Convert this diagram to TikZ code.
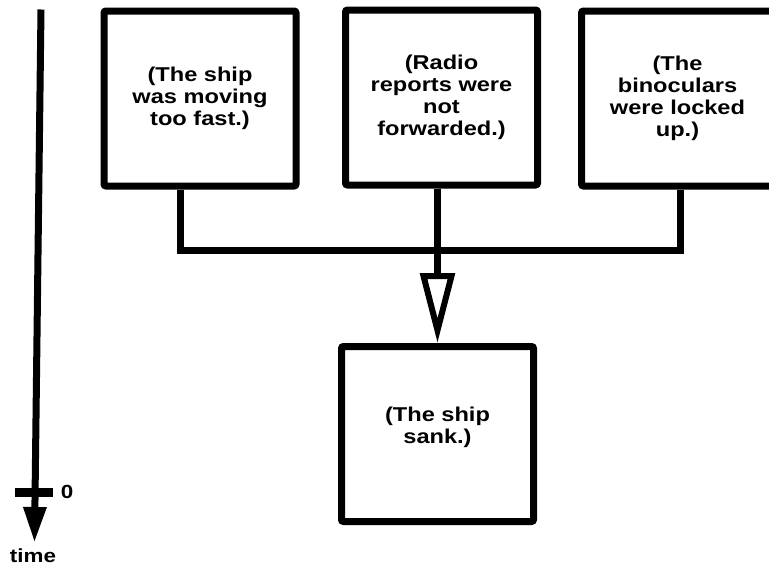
\documentclass[tikz,border=0pt]{standalone}
\usepackage{fontspec}
\newfontfamily\shipfam[FakeStretch = 1.18]{Liberation Sans}
\usetikzlibrary{arrows.meta}
\begin{document}
\begin{tikzpicture}[x = 1pt, y = -1pt,
        cause/.style = {draw, line width = 7pt, rounded corners = 2pt, minimum width = 192pt, minimum height = 175pt, align = center, font = \shipfam\bfseries\fontsize{20}{22}\selectfont},
        label/.style = {font = \shipfam\bfseries\fontsize{19}{22}\selectfont, inner sep = 0pt},
        link/.style = {line width = 7pt}]
        \useasboundingbox (0, 0) rectangle (769, 568);
        \node[cause] (fast) at (200, 98.5) {(The ship\\was moving\\too fast.)};
        \node[cause] (radio) at (441.5, 97.5) {(Radio\\reports were\\not\\forwarded.)};
        \node[cause] (binoc) at (677.5, 98.5) {(The\\binoculars\\were locked\\up.)};
        \node[cause] (sank) at (437.5, 434) {(The ship\\sank.)\\[-4pt]\mbox{}};
        \coordinate (jfast) at (180, 250);
        \coordinate (jbinoc) at (680, 250);
        \draw[link] (jfast |- fast.south) -- (jfast) -- (jbinoc) -- (jbinoc |- binoc.south);
        \draw[link, -{Triangle[open, length = 70pt, width = 34pt, line width = 6pt]}] (sank.north |- radio.south) -- (sank.north);
        \coordinate (axtop) at (41, 9.5);
        \coordinate (axend) at (34.5, 541);
        \draw[link, -{Triangle[length = 34pt, width = 24pt, line width = 0pt]}] (axtop) -- (axend);
        \coordinate (tickl) at (15, 492);
        \coordinate (tickr) at (53, 492);
        \draw[line width = 9pt] (tickl) -- (tickr);
        \node[label] (zero) at (67, 492) {0};
        \node[label] (timelbl) at (33, 556) {time};
    \end{tikzpicture}
\end{document}
